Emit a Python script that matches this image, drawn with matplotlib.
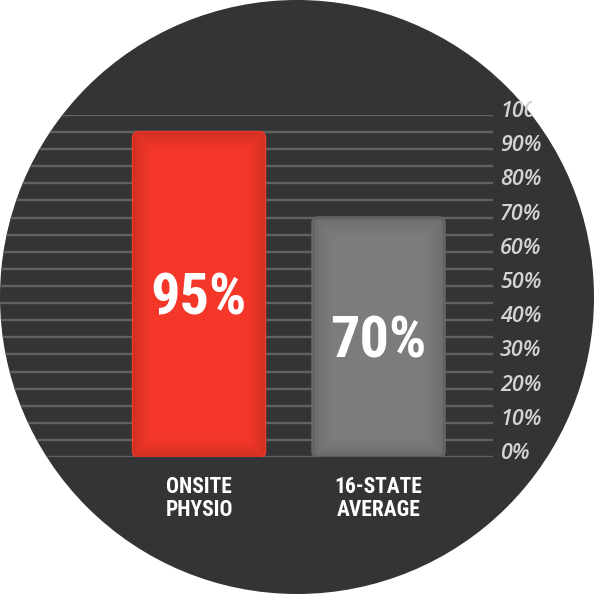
import matplotlib
matplotlib.use("Agg")
import matplotlib.pyplot as plt
import numpy as np
from matplotlib import font_manager
from matplotlib.patches import Circle, FancyBboxPatch
from matplotlib.transforms import Bbox

categories = ["ONSITE\nPHYSIO", "16-STATE\nAVERAGE"]
values = [95, 70]
value_labels = ["95%", "70%"]
grid_steps = list(range(0, 101, 5))
tick_values = list(range(0, 101, 10))
tick_labels = [f"{v}%" for v in tick_values]

BG = "#333436"
GRID = "#606162"
BAR_FACE = ["#f5372a", "#7c7c7e"]
BAR_EDGE = ["#f23a2a", "#6b6b6d"]

# pick a condensed face if one is installed
_names = {f.name for f in font_manager.fontManager.ttflist}
COND = next((n for n in ["Roboto Condensed", "Liberation Sans Narrow", "DejaVu Sans Condensed",
                         "Open Sans Condensed", "Roboto"] if n in _names), "DejaVu Sans")

SIZE = 594
fig = plt.figure(figsize=(SIZE / 100, SIZE / 100), dpi=100)
fig.patch.set_facecolor("white")
disc = Circle((0.5, 0.5), 0.5, transform=fig.transFigure, facecolor=BG, edgecolor="none", zorder=-5)
fig.patches.append(disc)

ax = fig.add_axes([0, 137 / SIZE, 493 / SIZE, 342 / SIZE])
ax.set_zorder(2)
ax.set_facecolor("none")
for s in ax.spines.values():
    s.set_visible(False)
ax.set_xticks([])
ax.set_yticks([])

for g in grid_steps:
    ln = ax.axhline(g, color=GRID, lw=1.7, zorder=1)
    ln.set_clip_path(disc)

xs = [0, 1]
bars = ax.bar(xs, values, width=0.735)
ax.set_xlim(-1.109, 1.638)
ax.set_ylim(0, 100)

# px per data unit, used to keep the rounded corners circular
px_x = 179.5
px_y = 342 / 100
aspect = px_x / px_y
for i, rect in enumerate(bars):
    rect.set_visible(False)
    x0, y0, w, h = rect.get_x(), rect.get_y(), rect.get_width(), rect.get_height()
    fb = FancyBboxPatch((x0, y0), w, h,
                        boxstyle="round,pad=0,rounding_size=0.033", mutation_aspect=aspect,
                        facecolor=BAR_FACE[i], edgecolor=BAR_EDGE[i], lw=1.8, zorder=3)
    ax.add_patch(fb)

    # soft inner shading near the bar edges
    nx, ny = int(w * px_x), int(h * px_y)
    gx = np.minimum(np.arange(nx), np.arange(nx)[::-1])[None, :]
    gy = np.minimum(np.arange(ny), np.arange(ny)[::-1])[:, None]
    d = np.minimum(gx, gy).astype(float)
    shade = np.zeros((ny, nx, 4))
    shade[..., 3] = 0.14 * (1 - np.clip(d / 22, 0, 1)) ** 1.5
    im = ax.imshow(shade, extent=(x0, x0 + w, y0, y0 + h), aspect="auto", zorder=3.5,
                   interpolation="bilinear")
    im.set_clip_path(fb)

    ax.annotate(value_labels[i], xy=(x0 + w / 2, values[i] / 2), xytext=(0, -14.4),
                textcoords="offset points", ha="center", va="baseline", color="white",
                fontsize=42, fontweight="bold", family=COND, fontstretch="condensed", zorder=4)
    ax.annotate(categories[i], xy=(xs[i], 0), xytext=(0, -13.5), textcoords="offset points",
                ha="center", va="top", color="white", fontsize=15.5, fontweight="bold",
                family=COND, fontstretch="condensed", linespacing=1.08, annotation_clip=False)

ytrans = ax.get_yaxis_transform()
for v, lab in zip(tick_values, tick_labels):
    t = ax.annotate(lab, xy=(500 / 493, v), xycoords=ytrans, xytext=(0, -1.5),
                    textcoords="offset points", ha="left", va="baseline",
                    color="#d4d4d4", fontsize=15.5, fontstyle="italic", fontweight="semibold",
                    family="Open Sans", annotation_clip=False)
    # agg clips text only by rectangles: cut at the disc edge level with the label
    yc = 137 + v * px_y - SIZE / 2
    xc = SIZE / 2 + np.sqrt(max((SIZE / 2) ** 2 - yc ** 2, 0))
    t.set_clip_box(Bbox.from_extents(0, 0, xc, SIZE))
    t.set_clip_on(True)

fig.savefig("out.png", dpi=100, facecolor="white")
